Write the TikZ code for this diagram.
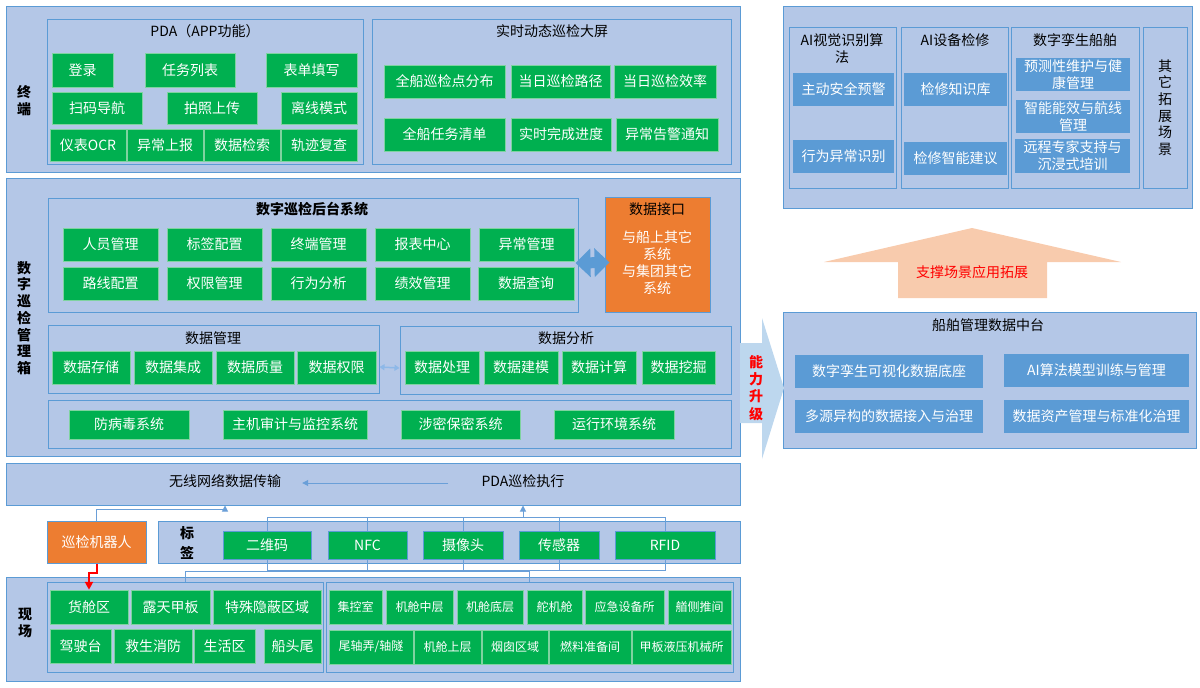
\documentclass[tikz,border=0pt]{standalone}
\usepackage{fontspec}
\setmainfont{Noto Sans CJK SC}
\usepackage{tikz}
\usetikzlibrary{arrows.meta}

\definecolor{pfill}{HTML}{B4C7E7}
\definecolor{pline}{HTML}{5B9BD5}
\definecolor{bgreen}{HTML}{00B050}
\definecolor{gline}{HTML}{7FD3A0}
\definecolor{bblue}{HTML}{5B9BD5}
\definecolor{borange}{HTML}{ED7D31}
\definecolor{cline}{HTML}{6A9FD8}
\definecolor{lblue}{HTML}{8DB8E8}
\definecolor{upfill}{HTML}{BDD7EE}
\definecolor{peach}{HTML}{F8CBAD}

\begin{document}
\begin{tikzpicture}[
    x=1pt, y=-1pt,
    corners/.style n args={4}{
        at={({(#1+#3)/2},{(#2+#4)/2})}, anchor=center,
        minimum width={(#3)-(#1)}, minimum height={(#4)-(#2)}
    },
    panel/.style={draw=pline, fill=pfill, line width=1pt, inner sep=0pt},
    gbtn/.style={
        fill=bgreen, draw=gline, line width=0.5pt, inner sep=0pt,
        text=white, font=\fontsize{14}{17}\selectfont
    },
    fbtn/.style={gbtn, font=\fontsize{12}{14}\selectfont},
    tagbtn/.style={gbtn, draw=pline, line width=1pt},
    bbtn/.style={
        fill=bblue, inner sep=0pt, text=white, align=center,
        font=\fontsize{14}{17}\selectfont
    },
    obox/.style={fill=borange, draw=pline, line width=1pt, inner sep=0pt},
    ttl/.style={inner sep=0pt, align=center, font=\fontsize{14}{17}\selectfont},
    vlbl/.style={inner sep=0pt, align=center, font=\bfseries\fontsize{14}{17}\selectfont},
    conn/.style={draw=cline, line width=1pt},
    tip/.style={-{Triangle[length=6pt,width=6pt]}}
]
    \useasboundingbox (0,0) rectangle (1200,688);

    % terminal
    \node[panel, corners={6}{6}{740}{172}] (term) {};
    \node[vlbl] (termlbl) at (24,101) {终\\端};
    \node[panel, corners={47}{19}{363}{164}] (pda) {};
    \node[ttl] (pdattl) at (205,31) {PDA（APP功能）};
    \node[gbtn, corners={52}{53}{113}{87}] (login) {登录};
    \node[gbtn, corners={145}{53}{235}{87}] (tasks) {任务列表};
    \node[gbtn, corners={266}{53}{357}{87}] (form) {表单填写};
    \node[gbtn, corners={52}{92}{142}{124}] (scan) {扫码导航};
    \node[gbtn, corners={167}{92}{257}{124}] (photo) {拍照上传};
    \node[gbtn, corners={281}{92}{357}{124}] (offline) {离线模式};
    \node[gbtn, corners={50}{129}{126}{161}] (ocr) {仪表OCR};
    \node[gbtn, corners={127}{129}{203}{161}] (report) {异常上报};
    \node[gbtn, corners={204}{129}{280}{161}] (search) {数据检索};
    \node[gbtn, corners={281}{129}{357}{161}] (track) {轨迹复查};

    \node[panel, corners={372}{19}{731}{164}] (screen) {};
    \node[ttl] (scrttl) at (552,31) {实时动态巡检大屏};
    \node[gbtn, corners={384}{65}{505}{98}] (dist) {全船巡检点分布};
    \node[gbtn, corners={511}{65}{610}{98}] (route) {当日巡检路径};
    \node[gbtn, corners={614}{65}{716}{98}] (eff) {当日巡检效率};
    \node[gbtn, corners={384}{118}{505}{151}] (tlist) {全船任务清单};
    \node[gbtn, corners={511}{118}{611}{151}] (prog) {实时完成进度};
    \node[gbtn, corners={616}{118}{718}{151}] (alarm) {异常告警通知};

    % management box
    \node[panel, corners={6}{178}{740}{456}] (mgmt) {};
    \node[vlbl, font=\bfseries\fontsize{14}{16.7}\selectfont] (mgmtlbl) at (24,318)
        {数\\字\\巡\\检\\管\\理\\箱};
    \node[panel, corners={48}{198}{578}{312}] (hbox) {};
    \node[ttl, font=\bfseries\fontsize{14}{17}\selectfont] (hbttl) at (312,209) {数字巡检后台系统};
    \node[gbtn, corners={63}{228}{158}{261}] (staff) {人员管理};
    \node[gbtn, corners={167}{228}{262}{261}] (tagcfg) {标签配置};
    \node[gbtn, corners={271}{228}{366}{261}] (termmg) {终端管理};
    \node[gbtn, corners={375}{228}{470}{261}] (rptc) {报表中心};
    \node[gbtn, corners={479}{228}{574}{261}] (excmg) {异常管理};
    \node[gbtn, corners={63}{267}{158}{300}] (routecfg) {路线配置};
    \node[gbtn, corners={167}{267}{262}{300}] (perm) {权限管理};
    \node[gbtn, corners={271}{267}{366}{300}] (behav) {行为分析};
    \node[gbtn, corners={375}{267}{470}{300}] (perf) {绩效管理};
    \node[gbtn, corners={478}{267}{574}{300}] (query) {数据查询};

    \node[obox, corners={605}{197}{710}{312}] (iface) {};
    \node[ttl] (ifttl) at (657,209) {数据接口};
    \node[ttl, text=white] (iftxt) at (657,263) {与船上其它\\系统\\与集团其它\\系统};
    \draw[draw=bblue, line width=11pt,
          {Triangle[length=15pt,width=28pt]}-{Triangle[length=15pt,width=28pt]},
          shorten <=-3pt, shorten >=-5pt]
        ([yshift=-8pt]hbox.east) -- ([yshift=-8pt]iface.west);

    \node[panel, corners={48}{325}{379}{393}] (dm) {};
    \node[ttl] (dmttl) at (213,338) {数据管理};
    \node[gbtn, corners={52}{351}{130}{384}] (store) {数据存储};
    \node[gbtn, corners={134}{351}{212}{384}] (integ) {数据集成};
    \node[gbtn, corners={216}{351}{294}{384}] (qual) {数据质量};
    \node[gbtn, corners={297}{351}{376}{384}] (dperm) {数据权限};

    \node[panel, corners={400}{326}{731}{394}] (da) {};
    \node[ttl] (dattl) at (566,338) {数据分析};
    \node[gbtn, corners={405}{351}{479}{384}] (proc) {数据处理};
    \node[gbtn, corners={484}{351}{558}{384}] (model) {数据建模};
    \node[gbtn, corners={562}{351}{636}{384}] (dcalc) {数据计算};
    \node[gbtn, corners={642}{351}{715}{384}] (mine) {数据挖掘};
    \draw[draw=lblue, line width=1.5pt,
          {Triangle[length=5pt,width=6pt]}-{Triangle[length=5pt,width=6pt]}]
        ([yshift=-8pt]dm.east) -- ([yshift=-8pt]da.west);

    \node[panel, corners={48}{400}{731}{448}] (sec) {};
    \node[gbtn, corners={69}{410}{189}{439}] (antiv) {防病毒系统};
    \node[gbtn, corners={223}{410}{367}{439}] (audit) {主机审计与监控系统};
    \node[gbtn, corners={401}{410}{520}{439}] (secret) {涉密保密系统};
    \node[gbtn, corners={554}{410}{674}{439}] (runenv) {运行环境系统};

    % transfer band
    \node[panel, corners={6}{463}{740}{505}] (wband) {};
    \node[ttl] (wireless) at (225,481) {无线网络数据传输};
    \node[ttl] (pdaexec) at (523,481) {PDA巡检执行};
    \draw[conn, tip, shorten <=33pt, shorten >=21pt]
        ([yshift=-2pt]pdaexec.west) -- ([yshift=-2pt]wireless.east);

    % robot and tags
    \node[obox, corners={47}{521}{146}{563}, text=white, font=\fontsize{14}{17}\selectfont]
        (robot) {巡检机器人};
    \node[panel, corners={158}{521}{740}{563}] (tband) {};
    \node[vlbl, font=\bfseries\fontsize{14}{20}\selectfont] (taglbl) at (187,543) {标\\签};
    \node[tagbtn, corners={223}{531}{311}{559}] (qr) {二维码};
    \node[tagbtn, corners={328}{531}{407}{559}] (nfc) {NFC};
    \node[tagbtn, corners={423}{531}{503}{559}] (cam) {摄像头};
    \node[tagbtn, corners={519}{531}{599}{559}] (sensor) {传感器};
    \node[tagbtn, corners={615}{531}{715}{559}] (rfid) {RFID};

    % field
    \node[panel, corners={6}{577}{740}{681}] (field) {};
    \node[vlbl] (fieldlbl) at (25,623) {现\\场};
    \node[panel, corners={47}{582}{323}{672}] (lgrp) {};
    \node[panel, corners={326}{582}{733}{672}] (rgrp) {};
    \node[gbtn, corners={50}{590}{128}{624}] (cargo) {货舱区};
    \node[gbtn, corners={131}{590}{210}{624}] (deck) {露天甲板};
    \node[gbtn, corners={213}{590}{321}{624}] (hidden) {特殊隐蔽区域};
    \node[gbtn, corners={50}{629}{111}{663}] (bridge) {驾驶台};
    \node[gbtn, corners={114}{629}{192}{663}] (rescue) {救生消防};
    \node[gbtn, corners={194}{629}{255}{663}] (living) {生活区};
    \node[gbtn, corners={264}{629}{321}{663}] (bowst) {船头尾};
    \node[fbtn, corners={329}{590}{382}{624}] (ecr) {集控室};
    \node[fbtn, corners={386}{590}{453}{624}] (emid) {机舱中层};
    \node[fbtn, corners={457}{590}{523}{624}] (ebot) {机舱底层};
    \node[fbtn, corners={527}{590}{582}{624}] (steer) {舵机舱};
    \node[fbtn, corners={585}{590}{664}{624}] (emerg) {应急设备所};
    \node[fbtn, corners={668}{590}{731}{624}] (bowth) {艏侧推间};
    \node[fbtn, corners={329}{630}{413}{664}] (shaft) {尾轴弄/轴隧};
    \node[fbtn, corners={414}{630}{481}{664}] (etop) {机舱上层};
    \node[fbtn, corners={482}{630}{548}{664}] (funnel) {烟囱区域};
    \node[fbtn, corners={549}{630}{631}{664}] (fuel) {燃料准备间};
    \node[fbtn, corners={632}{630}{731}{664}] (hydr) {甲板液压机械所};

    % connectors round the tags
    \coordinate (bus1) at (0,517);
    \coordinate (bus2) at (0,570);
    \draw[conn] (qr.north) -- (qr |- bus1) -- (rfid |- bus1) -- (rfid.north);
    \draw[conn] (nfc.north) -- (nfc |- bus1);
    \draw[conn] (cam.north) -- (cam |- bus1);
    \draw[conn] (sensor.north) -- (sensor |- bus1);
    \draw[conn] (qr.south) -- (qr |- bus2) -- (rfid |- bus2) -- (rfid.south);
    \draw[conn] (nfc.south) -- (nfc |- bus2);
    \draw[conn] (cam.south) -- (cam |- bus2);
    \draw[conn] (sensor.south) -- (sensor |- bus2);
    \draw[conn, tip] (pdaexec |- bus1) -- (pdaexec |- wband.south);
    \draw[conn] (lgrp.north) -- ++(0,-10) -| (rgrp.north);
    \draw[conn] (rgrp.north) -- (rgrp |- bus2);
    \draw[conn, tip] (robot.north) -- ++(0,-11) -| (wireless |- wband.south);
    \draw[red, line width=2pt, -{Triangle[length=8pt,width=8pt]}]
        (robot.south) -- ++(0,9) -| (cargo.north);

    % AI applications
    \node[panel, corners={783}{6}{1192}{208}] (aip) {};
    \node[panel, corners={789}{27}{896}{188}] (vis) {};
    \node[ttl] (visttl) at (842,48.5) {AI视觉识别算\\法};
    \node[bbtn, corners={793}{73}{894}{106}] (warn) {主动安全预警};
    \node[bbtn, corners={793}{140}{894}{173}] (abn) {行为异常识别};
    \node[panel, corners={901}{27}{1008}{188}] (mnt) {};
    \node[ttl] (mntttl) at (955,40) {AI设备检修};
    \node[bbtn, corners={904}{73}{1007}{106}] (kb) {检修知识库};
    \node[bbtn, corners={904}{142}{1007}{175}] (sugg) {检修智能建议};
    \node[panel, corners={1011}{27}{1139}{188}] (twin) {};
    \node[ttl] (twinttl) at (1075,40) {数字孪生船舶};
    \node[bbtn, corners={1016}{58}{1130}{91}] (pred) {预测性维护与健\\康管理};
    \node[bbtn, corners={1016}{100}{1130}{133}] (energy) {智能能效与航线\\管理};
    \node[bbtn, corners={1015}{139}{1130}{173}] (remote) {远程专家支持与\\沉浸式培训};
    \node[panel, corners={1143}{27}{1187}{188}, align=center,
          font=\fontsize{14}{16.6}\selectfont] (other) {其\\它\\拓\\展\\场\\景};

    % support arrow
    \fill[peach] (898,298) -- (898,262) -- (824,262) -- (972,228) -- (1121,262)
        -- (1047,262) -- (1047,298) -- cycle;
    \node[ttl, text=red] (supp) at (972,272) {支撑场景应用拓展};

    % data centre
    \node[panel, corners={783}{312}{1196}{448}] (dc) {};
    \node[ttl] (dcttl) at (988,325) {船舶管理数据中台};
    \node[bbtn, corners={795}{355}{983}{388}] (twinbase) {数字孪生可视化数据底座};
    \node[bbtn, corners={1004}{354}{1189}{387}] (aimodel) {AI算法模型训练与管理};
    \node[bbtn, corners={795}{400}{983}{433}] (multisrc) {多源异构的数据接入与治理};
    \node[bbtn, corners={1004}{400}{1189}{433}] (asset) {数据资产管理与标准化治理};

    % upgrade arrow
    \fill[upfill] (740,343) -- (762,343) -- (762,318) -- (784,388) -- (762,459)
        -- (762,423) -- (740,423) -- cycle;
    \node[vlbl, text=red, font=\bfseries\fontsize{14}{17.3}\selectfont] (upg) at (756,388)
        {能\\力\\升\\级};
\end{tikzpicture}
\end{document}
